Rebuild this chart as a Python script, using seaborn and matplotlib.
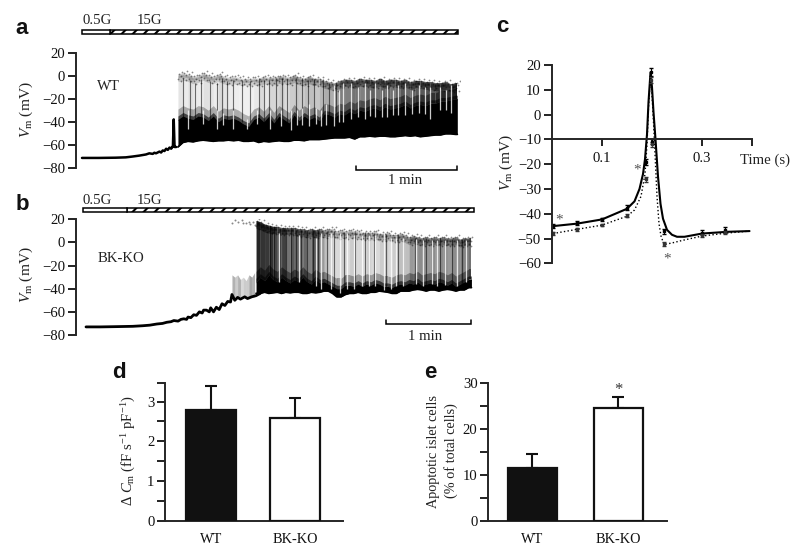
import matplotlib
matplotlib.use("Agg")
import matplotlib.pyplot as plt
from matplotlib.patches import Rectangle
import seaborn as sns

sns.set_style("ticks")
plt.rcParams.update({
    "font.family": ["Liberation Serif", "DejaVu Serif"],
    "mathtext.fontset": "custom",
    "mathtext.rm": "Liberation Serif",
    "mathtext.it": "Liberation Serif:italic",
    "mathtext.bf": "Liberation Serif:bold",
    "mathtext.default": "regular",
    "axes.unicode_minus": True,
    "hatch.linewidth": 1.5,
    "text.color": "#222222",
    "xtick.color": "#111111",
    "ytick.color": "#111111",
    "axes.labelcolor": "#222222",
})
W, H = 800, 553
FS = 10.6

# ---------- Panel a (seconds, mV) ----------
a_base_t = [0, 10, 20, 26, 30, 34, 36, 38, 40, 42, 43, 44, 46, 47, 48, 49, 50, 51, 52, 53, 53.5, 54, 54.5, 55, 56]
a_base_v = [-71.5, -71.5, -71.3, -71, -70.3, -69.5, -69, -68.5, -67.5, -68, -67, -67.5, -66, -66.8, -65, -65.5, -63.5, -64.5, -62.5, -63.5, -62, -62, -38, -62, -62]
a_t = [57, 60, 63, 66, 69, 72, 75, 78, 81, 84, 87, 90, 93, 96, 99, 102, 105, 108, 111, 114, 117, 120, 123, 126, 129, 132, 135, 138,
       141, 144, 147, 150, 153, 156, 159, 162, 165, 168, 171, 174, 177, 180, 183, 186, 189, 192, 195, 198, 201, 204, 207, 210, 213, 216, 219, 222, 223]
a_low = [-62, -58, -57, -57.5, -56.5, -56, -56.5, -57, -56.5, -56.5, -56, -56.5, -56, -57, -57, -56.5, -58, -57, -57.5, -57, -56.5, -57, -57, -56, -56, -56.5, -55.5, -55.5,
         -55.5, -55, -54.5, -54, -54, -54, -53.5, -55, -53, -53, -52.5, -53, -52.5, -52.5, -53, -53, -52.5, -52, -52.5, -52, -53, -52.5, -52, -51.5, -51.5, -50.5, -50.5, -51, -51]
a_dense = [-38, -35, -37, -38, -35, -36, -39, -35, -40, -37, -38, -37, -39, -42, -44, -38, -36, -40, -35, -41, -35, -38, -41, -34, -39, -35, -38, -36,
           -39, -33, -34, -36, -33, -34, -31, -33, -30, -31, -29, -28, -30, -27, -29, -28, -27, -25, -28, -26, -25, -26, -24, -24, -22, -22, -21, -20, -20]
a_up = [2, 3, 2, 0, 1, 3, 1, 0, 2, 0, -1, 0, -1, -2, -2, -1, -2, 0, -1, -1, 0, 0, -1, 1, -1, -2, 0, -2,
        -2, -4, -5, -6, -4, -3, -3, -4, -2, -3, -3, -4, -2, -4, -3, -3, -4, -3, -5, -4, -4, -5, -5, -6, -6, -5, -7, -6, -6]
a_shade = [.1, .08, .12, .08, .07, .12, .1, .07, .14, .1, .08, .07, .06, .06, .06, .09, .14, .09, .16, .16, .2, .14, .2, .22, .2, .25, .25, .22,
           .28, .32, .32, .38, .5, .5, .55, .55, .5, .58, .62, .55, .62, .62, .55, .62, .65, .58, .62, .65, .65, .68, .65, .7, .7, .65, .75, .75, .75]
a_spike_t = [60, 64, 67, 71, 76, 80, 83, 86, 90, 95, 100, 105, 108, 111, 115, 119, 122, 127, 131, 134, 138, 143, 147, 151]
a_spike_top = [-2, -4, -6, -3, -5, -6, -2, -5, -4, -4, -5, -2, -4, -4, -2, -2, -3, -2, -2, -4, -3, -3, -6, -6]
a_gap_t = [63, 72, 80, 84, 90, 98, 104, 112, 118, 124, 128, 131, 135, 139, 142, 145, 150, 153, 155, 160, 164, 168, 171, 174, 178, 181, 185, 188, 192, 196, 200, 204, 207, 213, 216, 219]
a_gap_top = [-30, -30, -30, -32, -30, -38, -30, -30, -30, -30, -30, -28, -25, -28, -30, -25, -8, -12, -6, -6, -10, -6, -12, -6, -12, -8, -12, -8, -6, -12, -8, -10, -10, -10, -12, -8]
a_gap_bot = [-46, -42, -46, -43, -46, -46, -42, -46, -44, -47, -43, -43, -44, -42, -44, -43, -44, -40, -40, -38, -36, -38, -35, -36, -36, -36, -34, -34, -34, -33, -32, -33, -38, -30, -30, -32]

# ---------- Panel b ----------
b_base_t = [0, 10, 20, 33, 40, 45, 50, 54, 57, 60, 62, 65, 67, 69, 71, 72, 74, 76, 78, 80, 82, 83, 85, 87, 88, 90, 92, 94, 96, 98, 100, 102, 103, 105, 107, 109, 112, 114, 117, 120, 123]
b_base_v = [-73, -73, -72.8, -72.5, -72, -71.5, -70.5, -70, -69, -68.5, -67.5, -68, -66.5, -66, -66.5, -64.5, -65, -62.5, -63, -60, -61, -58.5, -58.5, -60, -56.5, -60, -56, -58, -53, -54.5, -51, -51.5, -45, -50, -47.5, -49, -47, -48.5, -47, -46, -44]
b_early_t = [103, 105, 107, 109, 111, 113, 115, 117, 119]
b_early_top = [-28, -30, -28, -32, -30, -33, -28, -30, -26]
b_early_shade = [.3, .2, .3, .15, .2, .2, .35, .3, .35]
b_dots_t = [103, 105, 107, 110, 111, 113, 115, 116, 118, 119]
b_dots_v = [17, 19, 18, 19, 17, 17, 18, 16, 18, 15]
b_t = [120, 123, 126, 129, 132, 135, 138, 141, 144, 147, 150, 153, 156, 159, 162, 165, 168, 171, 174, 177, 180, 183, 186, 189, 192, 195,
       198, 201, 204, 207, 210, 213, 216, 219, 222, 225, 228, 231, 234, 237, 240, 243, 246, 249, 252, 255, 258, 261, 264, 267, 270, 272]
b_low = [-44, -44, -43, -44, -43.5, -43, -44, -43, -43.5, -43, -43, -44, -44, -43, -43.5, -43, -42, -42, -44, -47, -47, -45, -44, -44, -43, -44,
         -44, -43, -43, -42, -42.5, -43, -44, -44, -42, -42, -42, -41, -40.5, -41, -42, -41, -41, -42, -41, -40.5, -41, -42, -41, -41, -39, -39]
b_dense = [-34, -30, -33, -28, -32, -34, -30, -33, -35, -32, -34, -30, -34, -36, -32, -35, -34, -36, -38, -40, -40, -37, -37, -38, -36, -38,
           -36, -37, -35, -36, -38, -38, -39, -37, -36, -37, -35, -36, -34, -37, -36, -35, -36, -34, -35, -37, -35, -38, -36, -34, -32, -32]
b_up = [19, 18, 16, 15, 14, 14, 13, 13, 13, 13, 12, 12, 11, 12, 11, 12, 11, 12, 12, 10, 11, 10, 11, 10, 10, 9,
        9, 9, 10, 8, 8, 9, 7, 7, 8, 7, 5, 6, 5, 4, 5, 4, 5, 4, 5, 4, 4, 5, 3, 4, 4, 4]
b_shade = [.85, .8, .78, .8, .72, .6, .75, .55, .65, .6, .55, .6, .5, .65, .55, .4, .25, .2, .15, .15, .2, .15, .2, .15, .15, .15,
           .2, .15, .15, .2, .2, .15, .2, .25, .25, .25, .4, .4, .45, .45, .4, .45, .4, .45, .45, .4, .45, .45, .5, .5, .55, .55]
b_spike_t = [130, 133, 137, 141, 145, 148, 152, 156, 160, 164, 170, 175, 182, 190, 197, 203, 212, 220, 232, 240, 250, 258, 265]
b_spike_top = [14, 13, 12, 12, 12, 11, 11, 11, 11, 11, 10, 10, 9, 9, 9, 8, 7, 7, 4, 4, 4, 3, 3]
b_gap_t = [136, 150, 162, 166, 173, 179, 184, 189, 195, 200, 204, 210, 215, 219, 224, 233, 238, 244, 248, 253, 262, 268]
b_gap_top = [8, 6, 4, 8, 8, 8, 8, 6, 6, 6, 6, 8, 4, 4, 4, 3, 2, 2, 2, 2, 2, 2]
b_gap_bot = [-34, -34, -38, -40, -40, -44, -40, -40, -38, -38, -38, -41, -40, -38, -38, -36, -38, -36, -38, -37, -38, -34]

# ---------- Panel c ----------
c_wt_t = [.002, .05, .1, .15, .165, .175, .182, .186, .19, .193, .197, .2, .203, .207, .212, .217, .222, .23, .24, .25, .265, .3, .35, .395]
c_wt_v = [-45, -44, -42.3, -38, -35, -30, -24, -18, -8, 5, 17, 11, 1, -10, -25, -36, -42, -46.5, -48.5, -49.3, -49.3, -48, -47.3, -47]
c_ko_t = [.002, .05, .1, .15, .165, .178, .186, .19, .193, .197, .2, .203, .207, .21, .214, .218, .224, .24, .26, .3, .35, .395]
c_ko_v = [-48, -46.3, -44.6, -41, -38.5, -33, -24, -12, 3, 15, 8, -3, -20, -33, -44, -49, -52.4, -51.8, -50.8, -49, -47.8, -47]
c_wt_pt_t = [.002, .05, .1, .15, .187, .197, .2, .223, .3, .345]
c_wt_pt_v = [-45, -43.8, -42.3, -37.5, -19, 17, -11, -47, -47.7, -46.5]
c_wt_pt_e = [.8, .9, .6, .9, 1.2, 1.6, 1, 1, 1, 1]
c_ko_pt_t = [.002, .05, .1, .15, .187, .197, .2, .224, .3, .345]
c_ko_pt_v = [-47.8, -46.3, -44.6, -40.8, -26, 14, -12, -52.3, -48.7, -47.5]
c_ko_pt_e = [.6, .6, .5, .6, 1, 1.2, 1, .7, .7, .7]

# ---------- Panels d, e ----------
groups = ["WT", "BK-KO"]
d_values = [2.8, 2.59]
d_err = [0.58, 0.49]
e_values = [11.4, 24.5]
e_err = [3.2, 2.5]

fig = plt.figure(figsize=(W / 100, H / 100), dpi=100)


def box(x0, y0, x1, y1):
    return fig.add_axes([x0 / W, 1 - y1 / H, (x1 - x0) / W, (y1 - y0) / H])


def trace(ax, t, low, dense, up, shade, sp_t, sp_top, g_t, g_top, g_bot):
    for i in range(len(t) - 1):
        ts, us, ds = t[i:i + 2], up[i:i + 2], dense[i:i + 2]
        ax.fill_between(ts, ds, us, color="k", alpha=shade[i], lw=0, zorder=1)
        ax.fill_between(ts, [u - 7 for u in us], [u - 1 for u in us], color="k", alpha=.12 + .35 * shade[i], lw=0, zorder=1)
        ax.fill_between(ts, [u - 4 for u in us], [u - 2 for u in us], color="k", alpha=.15 + .2 * shade[i], lw=0, zorder=1)
        ax.fill_between(ts, ds, [d + 9 for d in ds], color="k", alpha=.25 + .3 * shade[i], lw=0, zorder=1)
    for k, (dt, dv) in enumerate([(.7, -.5), (1.6, -2.5), (2.4, 1), (.3, -5), (2.0, -7)]):
        ax.scatter([x + dt for x in t[:-1]], [u + dv for u in up[:-1]], s=1.6, color="k", alpha=.45, lw=0, zorder=1)
    ax.vlines(sp_t, -40, sp_top, color="k", lw=0.8, alpha=.55, zorder=2)
    ax.fill_between(t, low, dense, color="k", lw=0, zorder=3)
    ax.fill_between(t, [d - 1 for d in dense], [d + 3 for d in dense], color="k", alpha=.6, lw=0, zorder=3)
    ax.plot(t, low, color="k", lw=1.3, zorder=3)
    ax.vlines(g_t, g_bot, g_top, color="white", lw=.9, alpha=.8, zorder=4)


def style_v(ax, low, high, step):
    sns.despine(ax=ax, bottom=True)
    ax.spines["left"].set_linewidth(1.4)
    ax.set_ylim(low, high)
    ax.set_yticks(range(low, high + 1, step))
    ax.tick_params(axis="y", length=6, width=1.3, pad=2, labelsize=FS)
    ax.set_xticks([])
    ax.patch.set_alpha(0)


# a
ax_a = box(76, 52.7, 460, 167.7)
ax_a.set_xlim(-6 / 1.683, 378 / 1.683)
trace(ax_a, a_t, a_low, a_dense, a_up, a_shade, a_spike_t, a_spike_top, a_gap_t, a_gap_top, a_gap_bot)
sns.lineplot(x=a_base_t, y=a_base_v, ax=ax_a, color="k", lw=1.8, sort=False, errorbar=None)
style_v(ax_a, -80, 20, 20)

# b
ax_b = box(76, 219.3, 474, 335)
ax_b.set_xlim(-10 / 1.417, 388 / 1.417)
for i in range(len(b_early_t) - 1):
    ax_b.fill_between(b_early_t[i:i + 2], -47, b_early_top[i:i + 2], color="k", alpha=b_early_shade[i], lw=0)
ax_b.scatter(b_dots_t, b_dots_v, s=2, color="#888888", lw=0)
trace(ax_b, b_t, b_low, b_dense, b_up, b_shade, b_spike_t, b_spike_top, b_gap_t, b_gap_top, b_gap_bot)
sns.lineplot(x=b_base_t, y=b_base_v, ax=ax_b, color="k", lw=2.0, sort=False, errorbar=None)
style_v(ax_b, -80, 20, 20)

# c
ax_c = box(552, 65, 752, 263.3)
ax_c.set_xlim(0, .4)
sns.lineplot(x=c_ko_t, y=c_ko_v, ax=ax_c, color="k", lw=1.0, ls=":", sort=False, errorbar=None)
sns.lineplot(x=c_wt_t, y=c_wt_v, ax=ax_c, color="k", lw=1.5, sort=False, errorbar=None)
ax_c.errorbar(c_wt_pt_t, c_wt_pt_v, yerr=c_wt_pt_e, fmt="s", ms=1.8, color="k", lw=.8, capsize=1.4, clip_on=False)
ax_c.errorbar(c_ko_pt_t, c_ko_pt_v, yerr=c_ko_pt_e, fmt="s", ms=1.8, color="#333333", lw=.6, capsize=1.3, clip_on=False)
sns.despine(ax=ax_c)
ax_c.set_ylim(-60, 20)
ax_c.spines["bottom"].set_position(("data", -10))
for s in ("left", "bottom"):
    ax_c.spines[s].set_linewidth(1.4)
ax_c.set_yticks(range(-60, 21, 10))
ax_c.set_xticks([.1, .2, .3, .4])
ax_c.set_xticklabels(["0.1", "", "0.3", ""])
ax_c.tick_params(axis="both", length=6, width=1.3, pad=2, labelsize=FS)
ax_c.tick_params(axis="x", length=5, pad=4)
ax_c.patch.set_alpha(0)


def bars(ax, vals, errs, low, high, major, minor, width):
    sns.barplot(x=groups, y=vals, hue=groups, palette=["#111111", "white"], legend=False, width=width,
                edgecolor="#111111", linewidth=1.6, ax=ax, zorder=3)
    ax.errorbar([0, 1], vals, yerr=[[0, 0], errs], fmt="none", ecolor="#111111", elinewidth=1.5, capsize=4.2,
                capthick=1.5, zorder=2)
    sns.despine(ax=ax)
    for s in ("left", "bottom"):
        ax.spines[s].set_linewidth(1.4)
    ax.set_ylim(low, high)
    ax.set_yticks(major)
    ax.set_yticks(minor, minor=True)
    ax.tick_params(axis="y", which="both", length=5.5, width=1.3, pad=2, labelsize=FS)
    ax.tick_params(axis="x", length=0, pad=9, labelsize=FS - .3)
    ax.patch.set_alpha(0)


ax_d = box(165, 383.3, 343.5, 520.7)
bars(ax_d, d_values, d_err, 0, 3.46, [0, 1, 2, 3], [.5, 1.5, 2.5, 3.46], .6)
ax_d.set_xlim(-.55, 1.58)

ax_e = box(488, 383.3, 667, 520.7)
bars(ax_e, e_values, e_err, 0, 30, [0, 10, 20, 30], [5, 15, 25], .57)
ax_e.set_xlim(-.517, 1.564)

# Overlay in pixel coordinates for annotations
ov = fig.add_axes([0, 0, 1, 1])
ov.set_xlim(0, W)
ov.set_ylim(H, 0)
ov.axis("off")
ov.patch.set_alpha(0)

for lab, x, y in [("a", 22, 28), ("b", 22, 205), ("c", 502, 27), ("d", 119, 372), ("e", 430, 372)]:
    ov.text(x, y, lab, family="Liberation Sans", weight="bold", fontsize=16, ha="center", va="center", color="#111111")


def stim(x0, xs, x1, y0, y1):
    ov.add_patch(Rectangle((xs, y0), x1 - xs, y1 - y0, fc="white", ec="k", lw=1.1, hatch="///"))
    ov.add_patch(Rectangle((x0, y0), xs - x0, y1 - y0, fc="white", ec="k", lw=1.1))


stim(82, 110, 458, 29.7, 34.3)
stim(83, 127, 474, 207.7, 212)
for s, x, y in [("0.5G", 97, 20.5), ("15G", 149, 20.5), ("0.5G", 97, 200), ("15G", 149, 200),
                ("WT", 108, 86), ("BK-KO", 121, 259), ("1 min", 405, 181), ("1 min", 425, 337)]:
    ov.text(x, y, s, fontsize=FS, ha="center", va="center")

for x0, x1, y in [(356, 457, 170), (386, 471, 324)]:
    ov.plot([x0, x0, x1, x1], [y - 4, y, y, y - 4], color="k", lw=1.1, solid_joinstyle="miter")

vm = r"$\mathit{V}_{\mathrm{m}}$ (mV)"
ov.text(26, 110, vm, rotation=90, fontsize=FS + .5, ha="center", va="center")
ov.text(26, 275, vm, rotation=90, fontsize=FS + .5, ha="center", va="center")
ov.text(506, 163, vm, rotation=90, fontsize=FS + .5, ha="center", va="center")
ov.text(765, 160, "Time (s)", fontsize=FS, ha="center", va="center")
ov.text(129, 451, r"$\Delta\ \mathit{C}_{\mathrm{m}}$ (fF s$^{-1}$ pF$^{-1}$)", rotation=90, fontsize=FS, ha="center", va="center")
ov.text(434, 451, "Apoptotic islet cells", rotation=90, fontsize=FS - .3, ha="center", va="center")
ov.text(451, 451, "(% of total cells)", rotation=90, fontsize=FS - .3, ha="center", va="center")

for x, y in [(559, 220), (637, 170), (667, 259)]:
    ov.text(x, y, "*", fontsize=11, ha="center", va="center", color="#555555")
ov.text(618, 390, "*", fontsize=12, ha="center", va="center", color="#333333")

fig.savefig("out.png", dpi=100)
